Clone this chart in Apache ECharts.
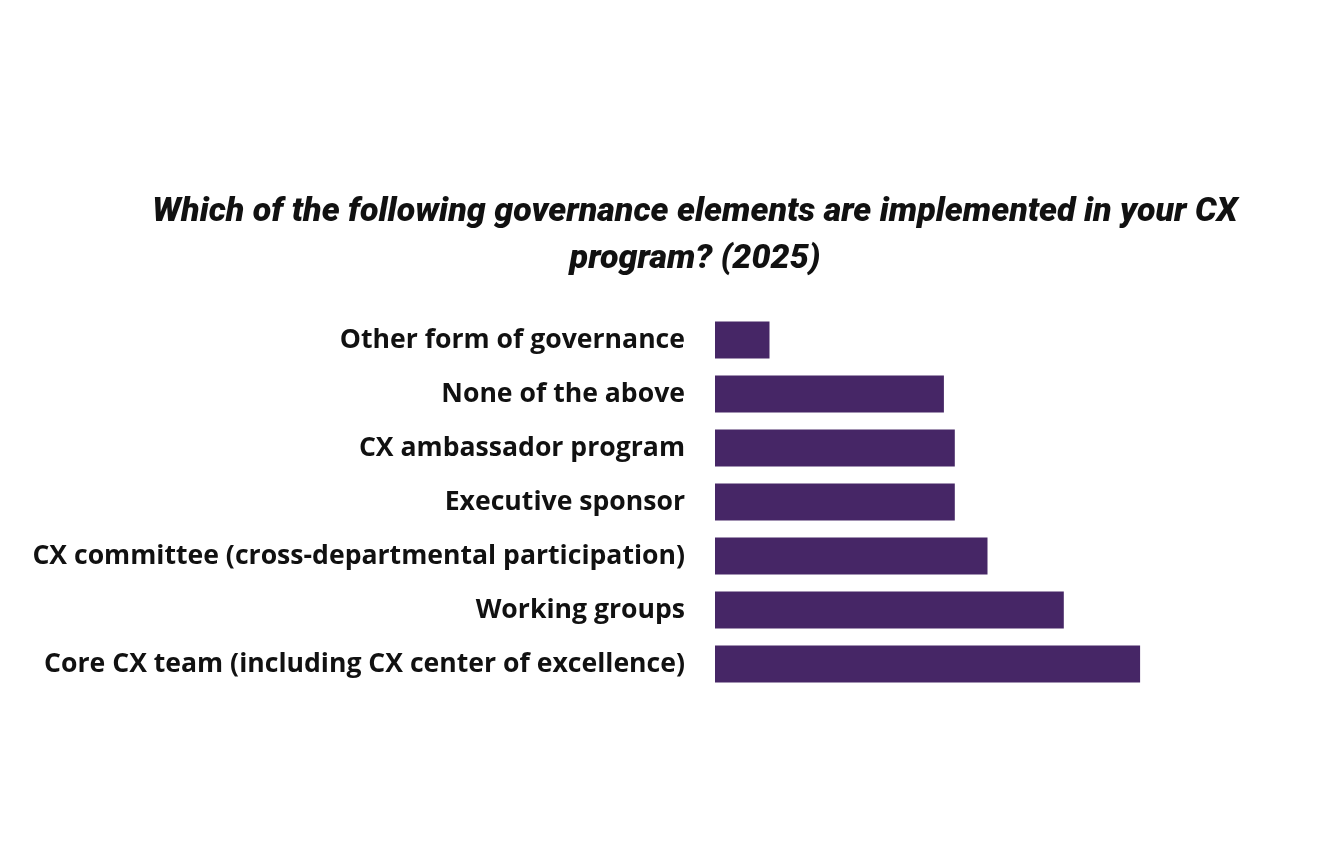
<!DOCTYPE html>
<html>
<head>
<meta charset="utf-8">
<script src="https://cdn.jsdelivr.net/npm/echarts@6/dist/echarts.min.js"></script>
<style>
  html, body { margin: 0; padding: 0; background: #fff; }
  #main { width: 1335px; height: 862px; }
</style>
</head>
<body>
<div id="main"></div>
<script>
// categories listed bottom to top (category axis on y starts at the bottom)
const categories = [
    'Core CX team (including CX center of excellence)',
    'Working groups',
    'CX committee (cross-departmental participation)',
    'Executive sponsor',
    'CX ambassador program',
    'None of the above',
    'Other form of governance'
];
// share of respondents, %
const values = [39, 32, 25, 22, 22, 21, 5];

const titleText = 'Which of the following governance elements are implemented in your CX\nprogram? (2025)';

let chart = echarts.init(document.getElementById('main'));
chart.setOption({
    backgroundColor: '#ffffff',
    title: {
        text: titleText,
        left: 690,
        top: 184,
        textAlign: 'center',
        textStyle: {
            fontFamily: 'Roboto',
            fontStyle: 'italic',
            fontWeight: 900,
            fontSize: 34,
            lineHeight: 47,
            color: '#111111'
        }
    },
    grid: {
        left: 715,
        top: 313,
        width: 545,
        height: 378
    },
    xAxis: {
        type: 'value',
        min: 0,
        max: 50,
        show: false
    },
    yAxis: {
        type: 'category',
        data: categories,
        axisLine: { show: false },
        axisTick: { show: false },
        axisLabel: {
            margin: 30,
            padding: [4, 0, 0, 0],
            fontFamily: 'Open Sans',
            fontWeight: 'bold',
            fontSize: 26.6,
            color: '#111111'
        }
    },
    series: [{
        type: 'bar',
        data: values,
        barWidth: 37,
        itemStyle: { color: '#462666' },
        silent: true
    }],
    animation: false
});
</script>
</body>
</html>
